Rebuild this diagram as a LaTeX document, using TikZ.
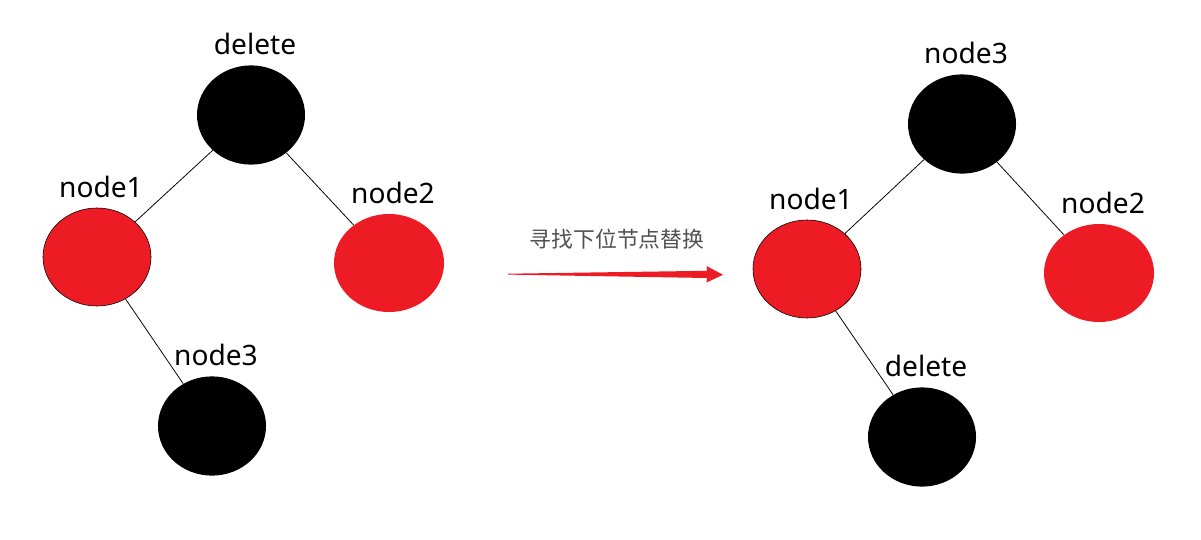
\documentclass[tikz,border=0pt]{standalone}
\usepackage{fontspec}
\usetikzlibrary{shapes.geometric}
\setmainfont{Noto Sans}
\newfontfamily\cjk{Noto Sans CJK SC}
\definecolor{paintred}{RGB}{237,28,36}
\definecolor{capgray}{RGB}{80,80,80}
\begin{document}
\begin{tikzpicture}[
	x=0.025cm, y=-0.025cm,
	every label/.style={ inner sep=0pt, xshift=0.1cm, font=\fontsize{20}{22}\selectfont },
	label distance=7pt,
	blk/.style={ ellipse, fill=black, inner sep=0pt, minimum width=2.7cm, minimum height=2.48cm },
	redb/.style={ ellipse, draw=black, thin, fill=paintred, inner sep=0pt, minimum width=2.7cm, minimum height=2.45cm },
	redn/.style={ ellipse, fill=paintred, inner sep=0pt, minimum width=2.75cm, minimum height=2.45cm },
	link/.style={ black, line width=0.55pt }
]
\useasboundingbox (0,0) rectangle (1201,539);

% left tree
\node at (251,115) (ldel) [blk,label=above:delete] {};
\node at (97,257) (ln1) [redb,label=above:node1] {};
\draw[link] (ldel) -- (ln1);
\node at (389,263) (ln2) [redn,label=above:node2] {};
\draw[link] (ldel) -- (ln2);
\node at (212,426) (ln3) [blk,label=above:node3] {};
\draw[link] (ln1) -- (ln3);

% arrow
\coordinate (as) at (508,273.7);
\coordinate (ae) at (723,274.8);
\fill[paintred] (as) -- (707,270.8) -- (706.5,266) -- (ae) -- (706.5,282.5) -- (707,278) -- (508,274.6) -- cycle;
\node at (617,239) (cap) [text=capgray,font=\cjk\fontsize{15.5}{17}\selectfont] {寻找下位节点替换};

% right tree
\node at (962,124) (rn3) [blk,label=above:node3] {};
\node at (807,269) (rn1) [redb,label=above:node1] {};
\draw[link] (rn3) -- (rn1);
\node at (1099,273) (rn2) [redn,label=above:node2] {};
\draw[link] (rn3) -- (rn2);
\node at (922,437) (rdel) [blk,label=above:delete] {};
\draw[link] (rn1) -- (rdel);

\end{tikzpicture}
\end{document}
